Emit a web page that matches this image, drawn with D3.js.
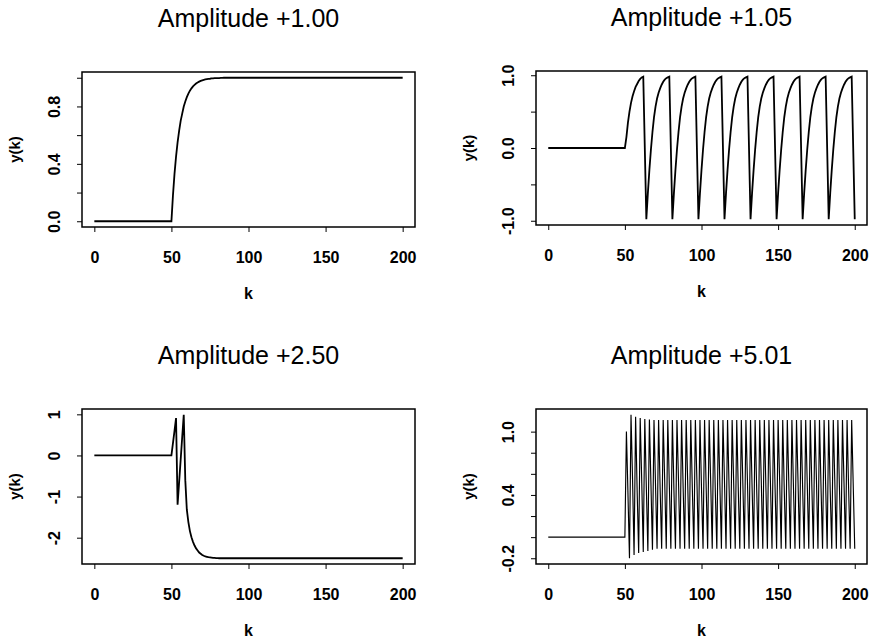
<!DOCTYPE html>
<html><head><meta charset="utf-8">
<script src="https://cdn.jsdelivr.net/npm/d3@7"></script>
<style>
body{margin:0;background:#fff}
svg{display:block}
text{font-family:"Liberation Sans",Arial,Helvetica,sans-serif;fill:#000}
</style>
</head><body>
<svg id="c" width="869" height="644"></svg>
<script>
const titles = ["Amplitude +1.00", "Amplitude +1.05", "Amplitude +2.50", "Amplitude +5.01"];
const xLabel = "k";
const yLabel = "y(k)";
const xTicks = [0, 50, 100, 150, 200];

const yTicks1 = [0, 0.2, 0.4, 0.6, 0.8, 1.0];
const yTickLabels1 = ["0.0", "", "0.4", "", "0.8", ""];
const yTicks2 = [-1, -0.5, 0, 0.5, 1];
const yTickLabels2 = ["-1.0", "", "0.0", "", "1.0"];
const yTicks3 = [-2, -1, 0, 1];
const yTickLabels3 = ["-2", "-1", "0", "1"];
const yTicks4 = [-0.2, 0, 0.2, 0.4, 0.6, 0.8, 1.0];
const yTickLabels4 = ["-0.2", "", "", "0.4", "", "", "1.0"];

// y(k), k = 0..200
const amp100 = [
0,0,0,0,0,0,0,0,0,0,
0,0,0,0,0,0,0,0,0,0,
0,0,0,0,0,0,0,0,0,0,
0,0,0,0,0,0,0,0,0,0,
0,0,0,0,0,0,0,0,0,0,
0,
0.18,0.33,0.45,0.55,0.63,0.70,0.75,0.80,0.835,0.865,
0.89,0.91,0.926,0.94,0.95,0.96,0.967,0.973,0.978,0.982,
0.985,0.988,0.99,0.992,0.993,0.995,0.996,0.997,0.997,0.998,
0.998,0.999,0.999,
1,1,1,1,1,1,1,1,1,1,
1,1,1,1,1,1,1,1,1,1,
1,1,1,1,1,1,1,1,1,1,
1,1,1,1,1,1,1,1,1,1,
1,1,1,1,1,1,1,1,1,1,
1,1,1,1,1,1,1,1,1,1,
1,1,1,1,1,1,1,1,1,1,
1,1,1,1,1,1,1,1,1,1,
1,1,1,1,1,1,1,1,1,1,
1,1,1,1,1,1,1,1,1,1,
1,1,1,1,1,1,1,1,1,1,
1,1,1,1,1,1,1
];

const amp105 = [
0,0,0,0,0,0,0,0,0,0,
0,0,0,0,0,0,0,0,0,0,
0,0,0,0,0,0,0,0,0,0,
0,0,0,0,0,0,0,0,0,0,
0,0,0,0,0,0,0,0,0,0,
0,
0.15,0.35,0.50,0.62,0.71,0.78,0.84,0.88,0.92,0.95,0.97,0.98,
0.00,-0.98,
-0.62,-0.30,-0.02,0.22,0.42,0.57,0.68,0.76,0.82,0.87,0.91,0.94,0.96,0.97,0.98,0.00,-0.98,
-0.62,-0.30,-0.02,0.22,0.42,0.57,0.68,0.76,0.82,0.87,0.91,0.94,0.96,0.97,0.98,0.00,-0.98,
-0.62,-0.30,-0.02,0.22,0.42,0.57,0.68,0.76,0.82,0.87,0.91,0.94,0.96,0.97,0.98,0.00,-0.98,
-0.62,-0.30,-0.02,0.22,0.42,0.57,0.68,0.76,0.82,0.87,0.91,0.94,0.96,0.97,0.98,0.00,-0.98,
-0.62,-0.30,-0.02,0.22,0.42,0.57,0.68,0.76,0.82,0.87,0.91,0.94,0.96,0.97,0.98,0.00,-0.98,
-0.62,-0.30,-0.02,0.22,0.42,0.57,0.68,0.76,0.82,0.87,0.91,0.94,0.96,0.97,0.98,0.00,-0.98,
-0.62,-0.30,-0.02,0.22,0.42,0.57,0.68,0.76,0.82,0.87,0.91,0.94,0.96,0.97,0.98,0.00,-0.98,
-0.62,-0.30,-0.02,0.22,0.42,0.57,0.68,0.76,0.82,0.87,0.91,0.94,0.96,0.97,0.98,0.00,-0.98
];

const amp250 = [
0,0,0,0,0,0,0,0,0,0,
0,0,0,0,0,0,0,0,0,0,
0,0,0,0,0,0,0,0,0,0,
0,0,0,0,0,0,0,0,0,0,
0,0,0,0,0,0,0,0,0,0,
0,
0.30,0.60,0.91,-1.20,-0.65,-0.10,0.45,0.99,-0.60,-1.32,
-1.62,-1.84,-1.99,-2.10,-2.19,-2.26,-2.31,-2.36,-2.39,-2.42,
-2.44,-2.455,-2.465,-2.475,-2.48,-2.485,-2.49,-2.49,-2.495,-2.495,
-2.5,-2.5,-2.5,-2.5,-2.5,-2.5,-2.5,-2.5,-2.5,-2.5,
-2.5,-2.5,-2.5,-2.5,-2.5,-2.5,-2.5,-2.5,-2.5,-2.5,
-2.5,-2.5,-2.5,-2.5,-2.5,-2.5,-2.5,-2.5,-2.5,-2.5,
-2.5,-2.5,-2.5,-2.5,-2.5,-2.5,-2.5,-2.5,-2.5,-2.5,
-2.5,-2.5,-2.5,-2.5,-2.5,-2.5,-2.5,-2.5,-2.5,-2.5,
-2.5,-2.5,-2.5,-2.5,-2.5,-2.5,-2.5,-2.5,-2.5,-2.5,
-2.5,-2.5,-2.5,-2.5,-2.5,-2.5,-2.5,-2.5,-2.5,-2.5,
-2.5,-2.5,-2.5,-2.5,-2.5,-2.5,-2.5,-2.5,-2.5,-2.5,
-2.5,-2.5,-2.5,-2.5,-2.5,-2.5,-2.5,-2.5,-2.5,-2.5,
-2.5,-2.5,-2.5,-2.5,-2.5,-2.5,-2.5,-2.5,-2.5,-2.5,
-2.5,-2.5,-2.5,-2.5,-2.5,-2.5,-2.5,-2.5,-2.5,-2.5,
-2.5,-2.5,-2.5,-2.5,-2.5,-2.5,-2.5,-2.5,-2.5,-2.5
];

const amp501 = [
0,0,0,0,0,0,0,0,0,0,
0,0,0,0,0,0,0,0,0,0,
0,0,0,0,0,0,0,0,0,0,
0,0,0,0,0,0,0,0,0,0,
0,0,0,0,0,0,0,0,0,0,
0,
1.00,0.42,-0.20,  1.16,0.55,-0.17,  1.14,0.44,-0.15,  1.13,0.53,-0.14,  1.12,0.47,-0.13,
1.115,0.51,-0.12, 1.11,0.49,-0.11,  1.11,0.46,-0.11,  1.11,0.52,-0.11,  1.11,0.50,-0.11,
1.11,0.45,-0.11,  1.11,0.53,-0.11,  1.11,0.48,-0.11,  1.11,0.51,-0.11,  1.11,0.47,-0.11,
1.11,0.54,-0.11,  1.11,0.46,-0.11,  1.11,0.50,-0.11,  1.11,0.52,-0.11,  1.11,0.44,-0.11,
1.11,0.49,-0.11,  1.11,0.53,-0.11,  1.11,0.47,-0.11,  1.11,0.51,-0.11,  1.11,0.45,-0.11,
1.11,0.50,-0.11,  1.11,0.52,-0.11,  1.11,0.48,-0.11,  1.11,0.46,-0.11,  1.11,0.54,-0.11,
1.11,0.49,-0.11,  1.11,0.51,-0.11,  1.11,0.47,-0.11,  1.11,0.53,-0.11,  1.11,0.45,-0.11,
1.11,0.50,-0.11,  1.11,0.48,-0.11,  1.11,0.52,-0.11,  1.11,0.46,-0.11,  1.11,0.51,-0.11,
1.11,0.49,-0.11,  1.11,0.55,-0.11,  1.11,0.47,-0.11,  1.11,0.50,-0.11,  1.11,0.44,-0.11,
1.11,0.52,-0.11,  1.11,0.48,-0.11,  1.11,0.51,-0.11,  1.11,0.46,-0.11,  1.11,0.50,-0.11
];

const panels = [
  {title: titles[0], data: amp100, yTicks: yTicks1, yTickLabels: yTickLabels1, box: [82, 415, 72, 227], lw: 1.8},
  {title: titles[1], data: amp105, yTicks: yTicks2, yTickLabels: yTickLabels2, box: [536, 867, 71, 225], lw: 1.8},
  {title: titles[2], data: amp250, yTicks: yTicks3, yTickLabels: yTickLabels3, box: [82, 415, 409, 564], lw: 1.8},
  {title: titles[3], data: amp501, yTicks: yTicks4, yTickLabels: yTickLabels4, box: [536, 867, 409, 564], lw: 1.15}
];

const svg = d3.select("#c");
svg.append("rect").attr("width", 869).attr("height", 644).attr("fill", "#fff");

function padded(ext) {
  const p = (ext[1] - ext[0]) * 0.04;
  return [ext[0] - p, ext[1] + p];
}

panels.forEach(p => {
  const [x0, x1, y0, y1] = p.box;
  const ks = p.data.map((d, i) => i);
  const x = d3.scaleLinear().domain(padded(d3.extent(ks))).range([x0, x1]);
  const y = d3.scaleLinear().domain(padded(d3.extent(p.data))).range([y1, y0]);
  const g = svg.append("g");

  // x axis
  const xa = g.append("g").attr("transform", `translate(0,${y1})`)
    .call(d3.axisBottom(x).tickValues(xTicks).tickSize(5).tickSizeOuter(0).tickFormat(d3.format("d")));
  xa.select(".domain").remove();
  xa.selectAll("line").attr("stroke", "#000").attr("stroke-width", 1);
  xa.selectAll("text").attr("font-size", 16).attr("font-weight", "bold")
    .attr("font-family", '"Liberation Sans",Arial,sans-serif')
    .attr("y", 36).attr("dy", 0).attr("fill", "#000");

  // y axis
  const ya = g.append("g").attr("transform", `translate(${x0},0)`)
    .call(d3.axisLeft(y).tickValues(p.yTicks).tickSize(5).tickSizeOuter(0)
      .tickFormat((d, i) => p.yTickLabels[i]));
  ya.select(".domain").remove();
  ya.selectAll("line").attr("stroke", "#000").attr("stroke-width", 1);
  ya.selectAll("text").attr("font-size", 16).attr("font-weight", "bold")
    .attr("font-family", '"Liberation Sans",Arial,sans-serif')
    .attr("x", 0).attr("y", -22).attr("dy", 0)
    .attr("text-anchor", "middle").attr("transform", "rotate(-90)").attr("fill", "#000");

  // data line
  g.append("path").datum(p.data)
    .attr("fill", "none").attr("stroke", "#000").attr("stroke-width", p.lw)
    .attr("stroke-linejoin", "miter").attr("stroke-miterlimit", 4)
    .attr("d", d3.line().x((d, i) => x(i)).y(d => y(d)));

  // box
  g.append("rect").attr("x", x0).attr("y", y0).attr("width", x1 - x0).attr("height", y1 - y0)
    .attr("fill", "none").attr("stroke", "#000").attr("stroke-width", 1.5);

  // labels
  const cx = (x0 + x1) / 2, cy = (y0 + y1) / 2;
  g.append("text").attr("x", cx).attr("y", y0 - 45).attr("text-anchor", "middle")
    .attr("font-size", 25).text(p.title);
  g.append("text").attr("x", cx).attr("y", y1 + 72).attr("text-anchor", "middle")
    .attr("font-size", 16).attr("font-weight", "bold").text(xLabel);
  g.append("text").attr("transform", `translate(${x0 - 62},${cy}) rotate(-90)`)
    .attr("text-anchor", "middle").attr("font-size", 15).attr("font-weight", "bold").text(yLabel);
});
</script>
</body></html>
